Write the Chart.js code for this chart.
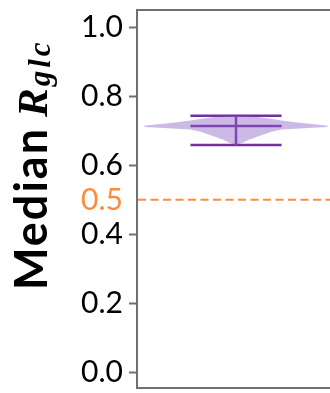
<!DOCTYPE html>
<html>
<head>
<meta charset="utf-8">
<script src="https://cdn.jsdelivr.net/npm/chart.js@4"></script>
<style>
html, body { margin: 0; padding: 0; background: #fff; overflow: hidden; }
#wrap { width: 340px; height: 393px; }
</style>
</head>
<body>
<div id="wrap"><canvas id="grafica" width="340" height="393"></canvas></div>
<script>
// tick labels of the y axis and the marked threshold
var yTicks = [0.0, 0.2, 0.4, 0.6, 0.8, 1.0];
var threshold = 0.5;

// violin outline: R values and half width of the density at each
var violinLevels = [0.659, 0.665, 0.674, 0.688, 0.697, 0.704, 0.711, 0.714, 0.716, 0.723, 0.730, 0.737, 0.741, 0.744];
var violinWidths = [0, 0.06, 0.13, 0.26, 0.36, 0.46, 0.92, 0.93, 0.89, 0.66, 0.46, 0.30, 0.18, 0.05];

// min, median, max of the whiskers
var violinStats = [0.659, 0.714, 0.744];
var capHalf = 0.46;

var tituloMain = 'Median';
var tituloVar = 'R';
var tituloSub = 'glc';

var naranja = '#ff8c3c';
var morado = '#7030a0';
var gris = '#707070';

var ladoIzq = violinLevels.map(function (v, i) { return {x: -violinWidths[i], y: v}; });
var ladoDer = violinLevels.map(function (v, i) { return {x: violinWidths[i], y: v}; });

function segmento(x1, y1, x2, y2) {
    return [{x: x1, y: y1}, {x: x2, y: y2}];
}

var tituloPlugin = {
    id: 'tituloY',
    afterDraw: function (chart) {
        var ctx = chart.ctx;
        ctx.save();
        ctx.translate(47, 290);
        ctx.rotate(-Math.PI / 2);
        ctx.fillStyle = '#000';
        ctx.textAlign = 'left';
        ctx.textBaseline = 'alphabetic';
        ctx.font = 'bold 45px Lato';
        ctx.letterSpacing = '2px';
        ctx.fillText(tituloMain, 0, 0);
        var x = ctx.measureText(tituloMain).width + 10;
        ctx.letterSpacing = '0px';
        ctx.font = 'italic bold 43px "Liberation Serif"';
        ctx.fillText(tituloVar, x, 0);
        x += ctx.measureText(tituloVar).width + 2;
        ctx.font = 'italic bold 31px "Liberation Serif"';
        ctx.letterSpacing = '3px';
        ctx.fillText(tituloSub, x, 3);
        ctx.restore();
    }
};

var mychart = new Chart(document.getElementById('grafica'), {
    type: 'line',
    data: {
        datasets: [
            {
                data: ladoIzq,
                borderWidth: 0,
                pointRadius: 0,
                backgroundColor: 'rgba(145, 100, 200, 0.45)',
                fill: '+1'
            },
            {
                data: ladoDer,
                borderWidth: 0,
                pointRadius: 0,
                fill: false
            },
            {
                data: segmento(-2, threshold, 2, threshold),
                borderColor: naranja,
                borderWidth: 2,
                borderDash: [8, 4.5],
                pointRadius: 0,
                fill: false
            },
            {
                data: segmento(0, violinStats[0], 0, violinStats[2]),
                borderColor: morado, borderWidth: 2.5, pointRadius: 0, fill: false
            },
            {
                data: segmento(-capHalf, violinStats[0], capHalf, violinStats[0]),
                borderColor: morado, borderWidth: 2.5, pointRadius: 0, fill: false
            },
            {
                data: segmento(-capHalf, violinStats[1], capHalf, violinStats[1]),
                borderColor: morado, borderWidth: 2.5, pointRadius: 0, fill: false
            },
            {
                data: segmento(-capHalf, violinStats[2], capHalf, violinStats[2]),
                borderColor: morado, borderWidth: 2.5, pointRadius: 0, fill: false
            }
        ]
    },
    options: {
        indexAxis: 'y',
        responsive: false,
        animation: false,
        devicePixelRatio: 1,
        layout: { padding: { left: 0, right: 5, top: 10, bottom: 5 } },
        plugins: {
            legend: { display: false },
            tooltip: { enabled: false }
        },
        scales: {
            x: {
                type: 'linear',
                position: 'bottom',
                min: -1,
                max: 1,
                ticks: { display: false },
                grid: { display: false },
                border: { display: true, color: gris, width: 2 },
                afterFit: function (scale) { scale.height = 0; }
            },
            x2: {
                type: 'linear',
                position: 'top',
                min: -1,
                max: 1,
                ticks: { display: false },
                grid: { display: false },
                border: { display: true, color: gris, width: 2 },
                afterFit: function (scale) { scale.height = 0; }
            },
            y: {
                type: 'linear',
                min: -0.045,
                max: 1.05,
                afterBuildTicks: function (scale) {
                    var t = yTicks.concat([threshold]).sort(function (a, b) { return a - b; });
                    scale.ticks = t.map(function (v) { return {value: v}; });
                },
                afterFit: function (scale) {
                    scale.width = 137;
                    scale.paddingTop = 0;
                    scale.paddingBottom = 0;
                },
                ticks: {
                    padding: 6,
                    font: { family: 'Lato', size: 30 },
                    color: function (c) { return c.tick && c.tick.value === threshold ? naranja : '#000'; },
                    callback: function (v) { return Number(v).toFixed(1); }
                },
                grid: {
                    drawOnChartArea: false,
                    tickLength: 8,
                    tickWidth: 2,
                    tickColor: function (c) { return c.tick && c.tick.value === threshold ? 'rgba(0,0,0,0)' : gris; }
                },
                border: { display: true, color: gris, width: 2 }
            }
        }
    },
    plugins: [tituloPlugin]
});
</script>
</body>
</html>
